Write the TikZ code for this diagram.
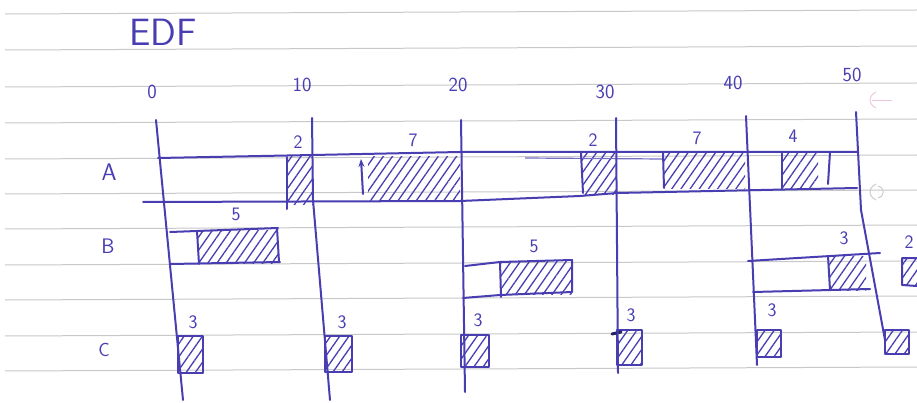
\documentclass[tikz,border=0pt]{standalone}
\usetikzlibrary{patterns.meta,arrows.meta}
\definecolor{ink}{RGB}{72,62,178}
\definecolor{rule}{RGB}{200,200,200}
\definecolor{pinkm}{RGB}{236,196,220}
\begin{document}
\begin{tikzpicture}[x=1pt,y=-1pt,
  pen/.style={draw=ink,line width=2pt,line cap=round,line join=round},
  hatch/.style={pattern={Lines[angle=55,distance=7.5pt,line width=1.3pt]},pattern color=ink},
  ruled/.style={draw=rule,line width=1pt},
  num/.style={text=ink,inner sep=0pt,font=\sffamily\fontsize{20}{20}\selectfont},
  lab/.style={text=ink,inner sep=0pt,font=\sffamily\fontsize{19}{19}\selectfont},
  rowlab/.style={text=ink,inner sep=0pt,font=\sffamily\fontsize{24}{24}\selectfont},
]
\fill[white] (0,0) rectangle (917,403);
\useasboundingbox (0,0) rectangle (917,403);
% ruled paper lines
\foreach \y in {14,50,87,123,159,194,229,265,300,336,371}
  \draw[ruled] (5,\y) -- (917,\y-4);
% faint margin marks
\draw[pinkm,line width=0.9pt] (872,100) -- (892,100);
\draw[pinkm,line width=0.9pt] (876,92) .. controls (868,96) and (868,104) .. (876,108);
\draw[rule,line width=0.9pt] (876,184) .. controls (868,188) and (868,196) .. (876,200);
\draw[rule,line width=0.9pt] (878,186) .. controls (885,188) and (885,196) .. (878,198);

% title and axis
\node[text=ink,inner sep=0pt,font=\sffamily\fontsize{38}{38}\selectfont] (title) at (163,32) {EDF};
\node[num] (t0) at (152,92) {0};
\node[num] (t10) at (302,85) {10};
\node[num] (t20) at (458,85) {20};
\node[num] (t30) at (605,92) {30};
\node[num] (t40) at (733,83) {40};
\node[num] (t50) at (852,75) {50};

% row labels
\node[rowlab] (rA) at (109,172) {A};
\node[rowlab,font=\sffamily\fontsize{21}{21}\selectfont] (rB) at (108,246) {B};
\node[rowlab,font=\sffamily\fontsize{19}{19}\selectfont] (rC) at (104,350) {C};

% ---- row A ----
\fill[hatch] (287,157) rectangle (313,205);
\fill[hatch] (368,157) rectangle (460,201);
\fill[hatch] (582,153) rectangle (616,195);
\fill[hatch] (664,153) rectangle (745,189);
\fill[hatch] (782,153) rectangle (818,189);
\draw[pen] (158,158) -- (313,155) -- (460,152) -- (857,152);
\draw[pen] (143,202) -- (460,201) -- (580,196) -- (617,193) -- (857,188);
\draw[draw=ink!75,line width=1.2pt] (525,158) -- (663,159);
\draw[pen] (287,157) -- (287,209);
\draw[pen,-{Stealth[length=8pt,width=6pt]}] (363,194) -- (361,159);
\draw[pen] (581,153) -- (583,193);
\draw[pen] (663,153) -- (664,188);
\draw[pen] (782,153) -- (782,189);
\draw[pen] (830,152) -- (828,184);
\node[lab] (a1) at (298,142) {2};
\node[lab] (a2) at (413,140) {7};
\node[lab] (a3) at (593,140) {2};
\node[lab] (a4) at (697,138) {7};
\node[lab] (a5) at (793,136) {4};

% ---- row B ----
\fill[hatch] (198,231) rectangle (278,263);
\draw[pen] (170,232) -- (197,231) -- (278,228);
\draw[pen] (170,264) -- (280,262);
\draw[pen] (197,231) -- (199,264);
\draw[pen] (277,228) -- (279,262);
\node[lab] (b1) at (236,214) {5};

\fill[hatch] (500,261) rectangle (572,294);
\draw[pen] (465,266) -- (500,262) -- (572,260) -- (572,292) -- (500,295) -- (463,298);
\draw[pen] (500,262) -- (501,297);
\node[lab] (b2) at (534,246) {5};

\fill[hatch] (829,256) rectangle (866,290);
\draw[pen] (748,261) -- (880,253);
\draw[pen] (753,292) -- (870,289);
\draw[pen] (828,256) -- (830,290);
\node[lab] (b3) at (844,238) {3};

\fill[hatch] (902,258) rectangle (917,285);
\draw[pen] (917,258) -- (902,258) -- (902,285) -- (917,286);
\node[lab] (b4) at (909,242) {2};

% ---- row C ----
\foreach \xa/\ya/\xb/\yb in {178/336/203/373, 325/336/352/372, 461/335/489/367, 617/330/642/365, 757/330/781/357, 885/330/909/354}
{
  \fill[hatch] (\xa,\ya) rectangle (\xb,\yb);
  \draw[pen] (\xa,\ya) rectangle (\xb,\yb);
}
\draw[draw=ink!55!black,line width=3pt,line cap=round] (612,334) -- (621,332);
\node[lab] (c1) at (193,322) {3};
\node[lab] (c2) at (342,322) {3};
\node[lab] (c3) at (478,320) {3};
\node[lab] (c4) at (631,315) {3};
\node[lab] (c5) at (772,310) {3};

% ---- time lines ----
\draw[pen] (156,120) -- (183,400);
\draw[pen] (312,118) -- (313,200) -- (330,400);
\draw[pen] (461,120) -- (465,392);
\draw[pen] (616,118) -- (618,373);
\draw[pen] (746,116) -- (757,365);
\draw[pen] (856,112) -- (861,210) -- (885,340);
\end{tikzpicture}
\end{document}
